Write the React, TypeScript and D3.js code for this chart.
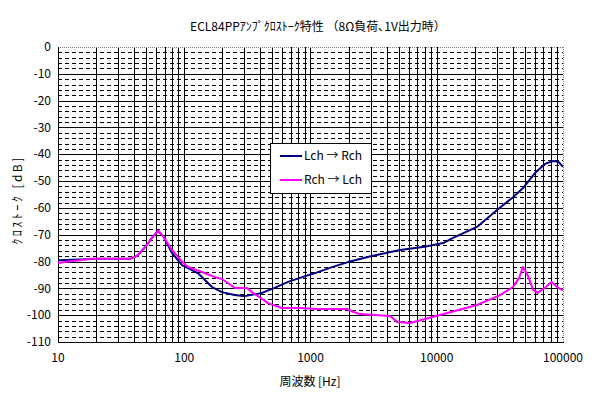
import * as d3 from "d3";

const W = 615;
const H = 394;

// Lch -> Rch
const lrFreq = [10, 15, 20, 30, 37, 42, 49, 55.5, 62, 68, 73, 80, 96, 128, 166, 199, 250, 303, 413, 520, 664, 826, 1087, 1500, 1982, 3000, 5120, 8000, 11230, 13460, 20840, 30000, 40200, 48200, 60000, 72000, 83400, 92000, 100000];
const lrDb = [-79.5, -79.2, -79, -79, -79, -78, -74.6, -71.2, -68.5, -70.5, -73.2, -76.8, -81.3, -84.3, -89.5, -91.4, -92.5, -92.9, -91.7, -89.8, -87.6, -86.1, -84.3, -82, -80.2, -78, -75.7, -74.5, -73.1, -71.2, -67.1, -60.8, -56, -52.6, -47, -43.6, -42.5, -42.8, -44.7];

// Rch -> Lch
const rlFreq = [10, 12, 15, 18, 25, 37, 42, 49, 55.5, 62, 68, 73, 80, 96, 107, 138, 175, 199, 222, 253, 314, 344, 400, 460, 593, 826, 1087, 1940, 2200, 2470, 4260, 4860, 6150, 10600, 20840, 31700, 40200, 45000, 48200, 53000, 58000, 63000, 73000, 81000, 90000, 100000];
const rlDb = [-80.5, -80, -79.5, -79, -79, -79, -78, -74.6, -71.2, -68.5, -70.5, -72.8, -75.7, -80, -82, -83.9, -85.8, -86.5, -88, -89.9, -89.9, -91.4, -93.5, -95.5, -97.3, -97.3, -97.7, -97.7, -98.8, -99.6, -100.3, -102.5, -102.9, -99.9, -96.2, -92.5, -89.5, -86, -82, -85.5, -90.6, -91.7, -89.5, -87.6, -89.5, -90.8];

const xTickLabels = ["10", "100", "1000", "10000", "100000"];
const seriesNames = ["Lch → Rch", "Rch → Lch"];
const seriesColors = ["#000080", "#ff00ff"];

const title = "ECL84PPｱﾝﾌﾟｸﾛｽﾄｰｸ特性 （8Ω負荷､1V出力時）";
const xTitle = "周波数  [Hz]";
const yTitle = "ｸﾛｽﾄｰｸ  [dB]";

const font = "'Noto Sans CJK JP', 'DejaVu Sans', sans-serif";

export default function App() {
  const left = 58, right = 563, top = 47, bottom = 342;

  const x = d3.scaleLog().domain([10, 100000]).range([left, right]);
  const y = d3.scaleLinear().domain([-110, 0]).range([bottom, top]);

  const line = d3
    .line<[number, number]>()
    .x(d => x(d[0]))
    .y(d => y(d[1]));

  const series = [
    lrFreq.map((f, i) => [f, lrDb[i]] as [number, number]),
    rlFreq.map((f, i) => [f, rlDb[i]] as [number, number]),
  ];

  const vLines = x.ticks().filter(t => t > 10 && t < 100000);
  const majorY = d3.range(-100, 0, 10);
  const minorY = d3.range(-108, 0, 2).filter(v => v % 10 !== 0);
  const yTicks = d3.range(-110, 1, 10);

  return (
    <svg
      width={W}
      height={H}
      style={{ position: "absolute", left: 0, top: 0, background: "#fff" }}
      fontFamily={font}
    >
      <rect x={0} y={0} width={W} height={H} fill="#fff" />

      {/* minor dashed grid */}
      {minorY.map(v => (
        <line key={"mn" + v} x1={left} x2={right} y1={Math.round(y(v)) + 0.5} y2={Math.round(y(v)) + 0.5}
          stroke="#000" strokeWidth={1} strokeDasharray="4,3" />
      ))}
      {majorY.map(v => (
        <line key={"mj" + v} x1={left} x2={right} y1={Math.round(y(v)) + 0.5} y2={Math.round(y(v)) + 0.5}
          stroke="#000" strokeWidth={1} />
      ))}
      {vLines.map(t => (
        <line key={"v" + t} x1={Math.round(x(t)) + 0.5} x2={Math.round(x(t)) + 0.5} y1={top} y2={bottom}
          stroke="#000" strokeWidth={1} />
      ))}

      {/* plot border */}
      <line x1={left} x2={right} y1={top + 0.5} y2={top + 0.5} stroke="#808080" strokeDasharray="1,1" />
      <line x1={right + 0.5} x2={right + 0.5} y1={top} y2={bottom} stroke="#808080" strokeDasharray="1,1" />
      <line x1={left + 0.5} x2={left + 0.5} y1={top} y2={bottom + 0.5} stroke="#000" />
      <line x1={left} x2={right + 1} y1={bottom + 0.5} y2={bottom + 0.5} stroke="#000" />

      {/* series */}
      {series.map((s, i) => (
        <path key={"s" + i} d={line(s) ?? ""} fill="none" stroke={seriesColors[i]} strokeWidth={2}
          strokeLinejoin="round" />
      ))}

      {/* y tick labels */}
      {yTicks.map(v => (
        <text key={"yt" + v} x={51} y={y(v)} dy="0.35em" textAnchor="end" fontSize={12} fill="#000">
          {v}
        </text>
      ))}
      {/* x tick labels */}
      {xTickLabels.map(l => (
        <text key={"xt" + l} x={x(+l)} y={362} textAnchor="middle" fontSize={12} fill="#000">
          {l}
        </text>
      ))}

      <text x={318} y={31} textAnchor="middle" fontSize={12} fill="#000">{title}</text>
      <text x={310} y={386} textAnchor="middle" fontSize={12} fill="#000">{xTitle}</text>
      <text transform="translate(22,200) rotate(-90)" textAnchor="middle" fontSize={12} letterSpacing={2.5}
        fill="#000">{yTitle}</text>

      {/* legend */}
      <g>
        <rect x={270.5} y={143.5} width={101} height={50} fill="#fff" stroke="#000" />
        {seriesNames.map((n, i) => (
          <g key={"lg" + i}>
            <line x1={280} x2={302} y1={156 + i * 24} y2={156 + i * 24} stroke={seriesColors[i]} strokeWidth={2} />
            <text x={304} y={156 + i * 24} dy="0.35em" fontSize={12} fill="#000">{n}</text>
          </g>
        ))}
      </g>
    </svg>
  );
}
